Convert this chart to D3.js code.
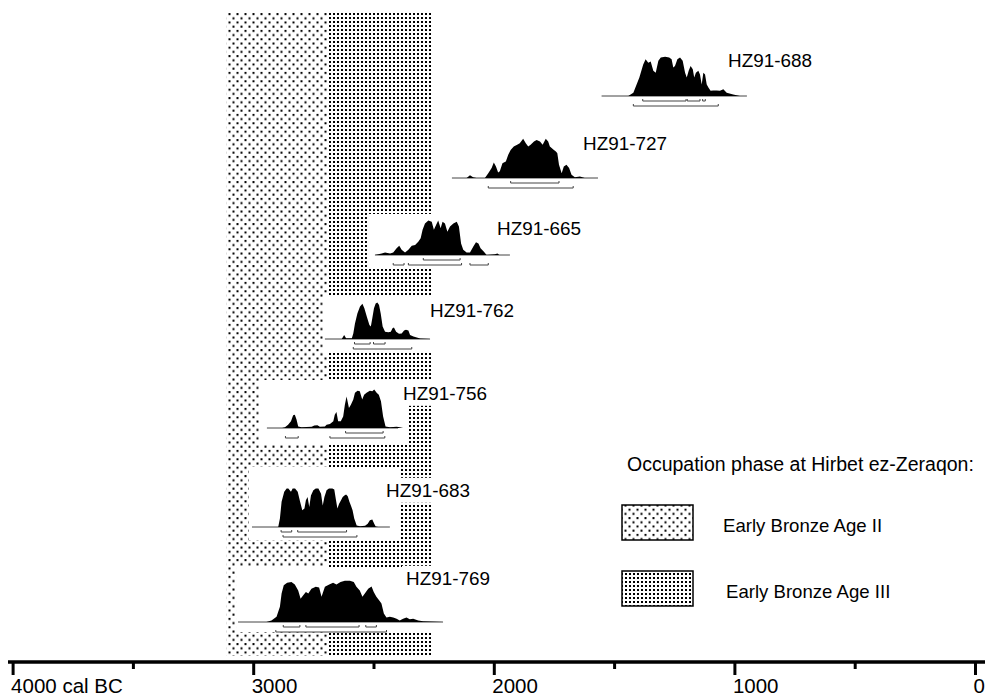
<!DOCTYPE html>
<html lang="en">
<head>
<meta charset="utf-8">
<title>Radiocarbon dates Hirbet ez-Zeraqon</title>
<script src="https://d3js.org/d3.v7.min.js"></script>
<style>
  body { margin: 0; background: #fff; }
  text { font-family: "Liberation Sans", Arial, sans-serif; fill: #000; }
</style>
</head>
<body>
<div id="chart"></div>
<script>
// ---- data (years cal BC, relative probability) ----
var sampleNames = ["HZ91-688", "HZ91-727", "HZ91-665", "HZ91-762", "HZ91-756", "HZ91-683", "HZ91-769"];

var prob688 = [[1441,0],[1420,0.08],[1395,0.46],[1379,0.79],[1369,0.92],[1358,0.83],[1348,0.86],[1337,0.63],[1327,0.58],[1316,0.88],[1306,0.96],[1288,0.98],[1271,0.96],[1261,0.92],[1254,0.71],[1247,0.75],[1237,0.92],[1226,0.96],[1215,0.88],[1205,0.58],[1198,0.46],[1190,0.63],[1182,0.75],[1173,0.67],[1167,0.46],[1160,0.58],[1150,0.63],[1143,0.54],[1136,0.29],[1129,0.58],[1122,0.54],[1115,0.29],[1108,0.21],[1099,0.13],[1088,0.14],[1074,0.14],[1060,0.13],[1046,0.17],[1032,0.08],[1005,0.04],[977,0]];
var prob727 = [[2113,0],[2099,0.07],[2086,0.02],[2072,0],[2037,0],[2023,0.12],[2009,0.25],[2000,0.39],[1991,0.29],[1982,0.14],[1975,0.17],[1964,0.37],[1950,0.41],[1940,0.58],[1930,0.70],[1917,0.79],[1903,0.83],[1892,0.87],[1878,0.98],[1867,0.87],[1857,0.79],[1847,0.83],[1833,0.91],[1822,0.95],[1808,0.91],[1797,0.83],[1784,0.98],[1774,0.91],[1767,0.79],[1750,0.70],[1742,0.66],[1736,0.62],[1729,0.33],[1718,0.12],[1709,0.29],[1698,0.33],[1687,0.25],[1677,0.08],[1663,0.02],[1642,0.04],[1622,0]];
var prob665 = [[2494,0],[2466,0.04],[2452,0.06],[2431,0.04],[2418,0.06],[2404,0.17],[2393,0.23],[2383,0.13],[2369,0.06],[2355,0.13],[2341,0.23],[2327,0.25],[2314,0.33],[2304,0.42],[2296,0.63],[2286,0.79],[2272,0.86],[2258,0.83],[2249,0.63],[2240,0.75],[2231,0.86],[2221,0.67],[2213,0.83],[2203,0.79],[2193,0.58],[2182,0.71],[2168,0.79],[2154,0.83],[2145,0.71],[2136,0.29],[2127,0.13],[2113,0.06],[2099,0.06],[2085,0.21],[2074,0.32],[2064,0.29],[2055,0.17],[2041,0.08],[2030,0],[1995,0.02],[1985,0.04],[1977,0]];
var prob762 = [[2632,0],[2622,0.10],[2614,0.02],[2590,0.02],[2584,0.14],[2577,0.39],[2567,0.64],[2556,0.81],[2546,0.88],[2538,0.77],[2528,0.56],[2517,0.35],[2511,0.31],[2505,0.52],[2498,0.77],[2491,0.89],[2484,0.91],[2477,0.85],[2470,0.64],[2462,0.31],[2452,0.18],[2438,0.17],[2428,0.18],[2421,0.27],[2415,0.29],[2406,0.18],[2394,0.13],[2383,0.14],[2373,0.21],[2365,0.23],[2355,0.21],[2348,0.10],[2334,0.06],[2306,0.01],[2265,0]];
var prob756 = [[2880,0],[2868,0.02],[2855,0.08],[2843,0.17],[2834,0.32],[2827,0.33],[2820,0.21],[2813,0.04],[2799,0.02],[2757,0.03],[2746,0.06],[2733,0.07],[2723,0.03],[2702,0.04],[2695,0.08],[2681,0.10],[2667,0.17],[2661,0.33],[2654,0.40],[2647,0.17],[2636,0.17],[2626,0.29],[2619,0.58],[2612,0.79],[2602,0.50],[2594,0.58],[2584,0.71],[2577,0.88],[2566,0.93],[2557,0.92],[2547,0.71],[2539,0.83],[2529,0.88],[2515,0.93],[2505,0.92],[2497,0.96],[2487,0.88],[2478,0.83],[2469,0.67],[2460,0.29],[2450,0.04],[2432,0.02],[2404,0.03],[2390,0.02],[2377,0]];
var prob683 = [[2896,0],[2889,0.21],[2882,0.63],[2871,0.88],[2861,0.96],[2854,0.96],[2843,0.88],[2836,0.96],[2826,0.96],[2815,0.88],[2805,0.63],[2796,0.42],[2787,0.46],[2781,0.67],[2774,0.75],[2767,0.50],[2760,0.79],[2750,0.92],[2740,0.96],[2729,0.96],[2718,0.83],[2711,0.54],[2704,0.75],[2695,0.92],[2685,0.96],[2671,0.96],[2663,0.94],[2657,0.71],[2650,0.46],[2643,0.58],[2635,0.67],[2628,0.75],[2621,0.79],[2614,0.81],[2607,0.77],[2600,0.63],[2594,0.54],[2587,0.42],[2580,0.21],[2570,0.04],[2556,0.02],[2535,0.03],[2524,0.08],[2515,0.17],[2505,0.19],[2497,0.08],[2491,0.01],[2480,0]];
var prob769 = [[2945,0],[2924,0.04],[2903,0.13],[2889,0.38],[2882,0.71],[2873,0.92],[2859,0.98],[2841,1.0],[2827,0.94],[2813,0.79],[2803,0.58],[2792,0.67],[2781,0.75],[2771,0.71],[2758,0.83],[2740,0.88],[2726,0.86],[2716,0.63],[2702,0.88],[2684,0.94],[2668,0.98],[2654,0.94],[2637,1.0],[2619,1.03],[2598,1.03],[2582,1.0],[2571,0.88],[2557,0.79],[2546,0.63],[2536,0.71],[2522,0.83],[2508,0.89],[2499,0.75],[2488,0.63],[2476,0.54],[2467,0.46],[2457,0.21],[2446,0.11],[2432,0.13],[2418,0.11],[2404,0.08],[2391,0.04],[2377,0.08],[2363,0.11],[2349,0.07],[2335,0.08],[2314,0.04],[2294,0.02],[2211,0]];

var probs = [prob688, prob727, prob665, prob762, prob756, prob683, prob769];

// plotted calendar range of each small plot
var plotRange = [[1552,948],[2174,1567],[2494,1933],[2702,2265],[2943,2398],[3005,2432],[3063,2211]];

// 1 sigma and 2 sigma ranges
var oneSigma = [
  [[1381,1201],[1196,1143],[1132,1121]],
  [[1930,1729]],
  [[2293,2140]],
  [[2579,2514],[2500,2452]],
  [[2616,2460]],
  [[2884,2840],[2815,2612]],
  [[2875,2806],[2781,2560],[2532,2488]]
];
var twoSigma = [
  [[1420,1067]],
  [[2023,1670]],
  [[2418,2373],[2355,2134],[2099,2023]],
  [[2584,2341]],
  [[2866,2813],[2681,2453]],
  [[2876,2569]],
  [[2906,2446]]
];

var periodNames = ["Early Bronze Age II", "Early Bronze Age III"];
var periodFrom = [3110, 2690];
var periodTo = [2690, 2260];

var tickYears = [4000, 3000, 2000, 1000, 0];
var tickLabels = ["4000 cal BC", "3000", "2000", "1000", "0"];
var minorYears = [3500, 2500, 1500, 500];

// ---- layout ----
var W = 989, H = 698;
var rowBase = [96, 178, 255, 339, 428, 527, 622];
var boxPadLeft = [8, 8, 8, 2, 8, 3, 2];
var boxUp = [46, 46, 41, 44, 48, 60, 55];
var boxDown = [14, 14, 13, 13, 17, 13, 10];
var labelPos = [[728, 60], [583, 143], [497, 228], [430, 310], [403, 393], [386, 490], [406, 578]];

var svg = d3.select("#chart").append("svg")
  .attr("width", W).attr("height", H);

var defs = svg.append("defs");
var p2 = defs.append("pattern").attr("id", "eb2")
  .attr("patternUnits", "userSpaceOnUse").attr("width", 8).attr("height", 8.4);
p2.append("rect").attr("width", 8).attr("height", 8.4).attr("fill", "#fff");
p2.append("rect").attr("x", 0.5).attr("y", 0.5).attr("width", 2).attr("height", 2).attr("fill", "#000");
p2.append("rect").attr("x", 4.5).attr("y", 4.7).attr("width", 2).attr("height", 2).attr("fill", "#000");

var p3 = defs.append("pattern").attr("id", "eb3")
  .attr("patternUnits", "userSpaceOnUse").attr("width", 4).attr("height", 4);
p3.append("rect").attr("width", 4).attr("height", 4).attr("fill", "#fff");
p3.append("rect").attr("x", 1).attr("y", 1).attr("width", 2).attr("height", 2).attr("fill", "#000");

var patterns = ["url(#eb2)", "url(#eb3)"];

var x = d3.scaleLinear().domain([4000, 0]).range([12.6, 975]);
var h = d3.scaleLinear().domain([0, 1]).range([0, 40]);

// period bands
svg.append("g").selectAll("rect")
  .data(periodNames)
  .join("rect")
    .attr("x", function (d, i) { return x(periodFrom[i]); })
    .attr("width", function (d, i) { return x(periodTo[i]) - x(periodFrom[i]); })
    .attr("y", 12)
    .attr("height", 656 - 12)
    .attr("fill", function (d, i) { return patterns[i]; });

// small calibration plots
var area = d3.area()
  .x(function (d) { return x(d[0]); });

sampleNames.forEach(function (name, i) {
  var base = rowBase[i];
  var g = svg.append("g");

  // white box behind the plot
  g.append("rect")
    .attr("x", x(plotRange[i][0]) - boxPadLeft[i])
    .attr("y", base - boxUp[i])
    .attr("width", x(plotRange[i][1]) - x(plotRange[i][0]) + boxPadLeft[i] + 10)
    .attr("height", boxUp[i] + boxDown[i])
    .attr("fill", "#fff");

  // label with its own white background
  var t = g.append("text")
    .attr("x", labelPos[i][0])
    .attr("y", labelPos[i][1])
    .attr("dy", "0.36em")
    .style("font-size", "18.9px")
    .text(name);
  var bb = t.node().getBBox();
  g.insert("rect", "text")
    .attr("x", bb.x - 4).attr("y", bb.y - 2)
    .attr("width", bb.width + 8).attr("height", bb.height + 4)
    .attr("fill", "#fff");

  g.append("line")
    .attr("x1", x(plotRange[i][0])).attr("x2", x(plotRange[i][1]))
    .attr("y1", base).attr("y2", base)
    .attr("stroke", "#444").attr("stroke-width", 1);

  g.append("path")
    .datum(probs[i])
    .attr("d", area.y0(base).y1(function (d) { return base - h(d[1]); }))
    .attr("fill", "#000");

  var bracket = function (r, y) {
    return "M" + x(r[0]) + "," + (y - 2) + "V" + y + "H" + x(r[1]) + "V" + (y - 2);
  };
  g.selectAll("path.s1")
    .data(oneSigma[i])
    .join("path").attr("class", "s1")
      .attr("d", function (r) { return bracket(r, base + 5); })
      .attr("fill", "none").attr("stroke", "#444").attr("stroke-width", 1);
  g.selectAll("path.s2")
    .data(twoSigma[i])
    .join("path").attr("class", "s2")
      .attr("d", function (r) { return bracket(r, base + 10); })
      .attr("fill", "none").attr("stroke", "#444").attr("stroke-width", 1);
});

// time axis
var axisY = 662;
svg.append("line")
  .attr("x1", 8).attr("x2", 985)
  .attr("y1", axisY).attr("y2", axisY)
  .attr("stroke", "#000").attr("stroke-width", 3.5);

svg.append("g")
  .attr("transform", "translate(0," + axisY + ")")
  .call(d3.axisBottom(x).tickValues(minorYears).tickSize(7).tickFormat(""))
  .call(function (g) { g.select(".domain").remove(); })
  .call(function (g) { g.selectAll(".tick line").attr("stroke-width", 3); });

var ax = svg.append("g")
  .attr("transform", "translate(0," + axisY + ")")
  .call(d3.axisBottom(x).tickValues(tickYears).tickSize(13)
    .tickFormat(function (d, i) { return tickLabels[i]; }))
  .call(function (g) { g.select(".domain").remove(); });
ax.selectAll(".tick line").attr("stroke-width", 3);
ax.selectAll(".tick text")
  .attr("text-anchor", "start")
  .attr("x", -2)
  .attr("y", 31)
  .attr("dy", null)
  .style("font-family", "'Liberation Sans', Arial, sans-serif")
  .style("font-size", "20.5px");

// legend
var legend = svg.append("g");
legend.append("text")
  .attr("x", 627).attr("y", 464).attr("dy", "0.36em")
  .style("font-size", "19.5px")
  .text("Occupation phase at Hirbet ez-Zeraqon:");

var legendY = [505, 571];
var legendTextX = [723, 726];
legend.selectAll("rect")
  .data(periodNames)
  .join("rect")
    .attr("x", 622).attr("y", function (d, i) { return legendY[i]; })
    .attr("width", 71).attr("height", 35)
    .attr("fill", function (d, i) { return patterns[i]; })
    .attr("stroke", "#000").attr("stroke-width", 1.5);
legend.selectAll("text.item")
  .data(periodNames)
  .join("text").attr("class", "item")
    .attr("x", function (d, i) { return legendTextX[i]; })
    .attr("y", function (d, i) { return legendY[i] + 20; })
    .attr("dy", "0.36em")
    .style("font-size", "18.6px")
    .text(function (d) { return d; });
</script>
</body>
</html>
